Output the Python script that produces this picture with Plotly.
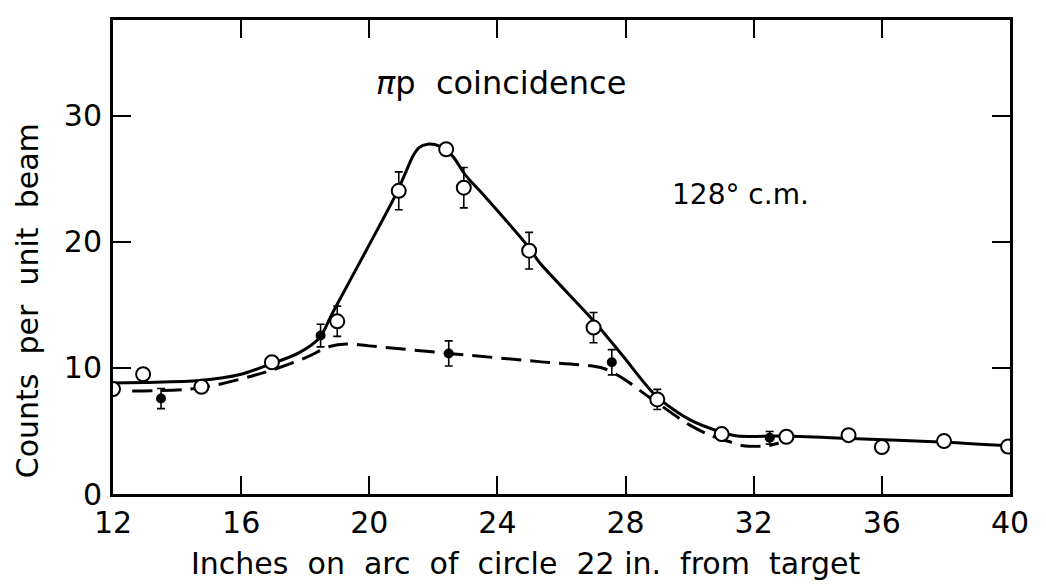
import plotly.graph_objects as go

# Open circles (pi-p coincidence)
open_x = [12.0, 12.94, 14.76, 16.96, 19.0, 20.92, 22.4, 22.95, 24.99, 27.0, 28.99, 31.0, 33.02, 34.96, 36.0, 37.94, 39.94]
open_y = [8.32, 9.5, 8.5, 10.45, 13.7, 24.05, 27.35, 24.3, 19.3, 13.2, 7.5, 4.75, 4.54, 4.67, 3.72, 4.2, 3.76]
open_err = [0, 0, 0, 0, 1.2, 1.5, 0, 1.6, 1.45, 1.2, 0.8, 0, 0, 0, 0, 0, 0]

# Filled dots
fill_x = [13.5, 18.48, 22.48, 27.57, 32.5]
fill_y = [7.57, 12.57, 11.15, 10.45, 4.46]
fill_err = [0.8, 0.9, 1.0, 1.0, 0.5]

# Solid curve
solid_x = [12.0, 13.0, 14.7, 16.0, 16.8, 17.8, 18.45, 18.86, 19.9, 20.84, 21.15, 21.36, 21.56, 21.82, 22.19,
           22.6, 23.0, 23.54, 25.0, 25.3, 27.0, 27.9, 28.94, 30.0, 31.0, 31.5, 32.9, 35.0, 38.0, 40.0]
solid_y = [8.8, 8.85, 9.0, 9.5, 10.2, 11.2, 12.4, 14.4, 19.3, 23.8, 25.6, 26.8, 27.5, 27.75, 27.6,
           26.8, 25.3, 23.8, 19.5, 18.4, 13.75, 11.0, 7.8, 5.9, 4.9, 4.6, 4.6, 4.4, 4.1, 3.8]

# Dashed curve
dash_x = [12.6, 14.7, 16.8, 18.0, 18.76, 19.3, 20.0, 22.48, 25.3, 27.27, 27.9, 28.73, 29.98, 30.7, 31.3, 31.63, 32.36, 32.78]
dash_y = [8.17, 8.4, 9.7, 10.8, 11.7, 11.9, 11.75, 11.15, 10.5, 10.0, 9.2, 7.7, 5.5, 4.6, 4.1, 3.85, 3.8, 4.05]

x_ticks = [12, 16, 20, 24, 28, 32, 36, 40]
y_ticks = [0, 10, 20, 30]

FONT = "DejaVu Sans"

fig = go.Figure()
fig.add_trace(go.Scatter(x=solid_x, y=solid_y, mode="lines",
                         line=dict(color="black", width=3, shape="spline", smoothing=0.8),
                         hoverinfo="skip"))
fig.add_trace(go.Scatter(x=dash_x, y=dash_y, mode="lines",
                         line=dict(color="black", width=3, shape="spline", smoothing=0.8, dash="20px,9px"),
                         hoverinfo="skip"))

fig.add_trace(go.Scatter(x=fill_x, y=fill_y, mode="markers",
                         marker=dict(symbol="circle", size=10, color="black"),
                         error_y=dict(type="data", array=fill_err, visible=True, color="black",
                                      thickness=1.6, width=4)))

eb_x = [x for x, e in zip(open_x, open_err) if e > 0]
eb_y = [y for y, e in zip(open_y, open_err) if e > 0]
eb_e = [e for e in open_err if e > 0]
fig.add_trace(go.Scatter(x=eb_x, y=eb_y, mode="markers",
                         marker=dict(size=1, color="rgba(0,0,0,0)"),
                         error_y=dict(type="data", array=eb_e, visible=True, color="black",
                                      thickness=1.6, width=4)))
fig.add_trace(go.Scatter(x=open_x, y=open_y, mode="markers",
                         marker=dict(symbol="circle", size=14, color="white",
                                     line=dict(color="black", width=2))))

axis_common = dict(showgrid=False, zeroline=False, showline=True, linecolor="black", linewidth=3,
                   mirror="ticks", ticks="inside", ticklen=18, tickwidth=2, tickcolor="black",
                   tickfont=dict(family=FONT, size=30, color="black"))

fig.update_xaxes(range=[12, 40], tickvals=x_ticks, ticktext=[str(v) for v in x_ticks],
                 ticklabelstandoff=0, **axis_common)
fig.update_yaxes(range=[0, 37.6], tickvals=y_ticks, ticktext=[str(v) for v in y_ticks],
                 ticklabelstandoff=2, **axis_common)

ann_common = dict(xref="paper", yref="paper", showarrow=False, xanchor="center", yanchor="middle")
fig.add_annotation(text="<i>π</i>p\u00a0\u00a0coincidence", x=0.433, y=0.868,
                   font=dict(family=FONT, size=32, color="black"), **ann_common)
fig.add_annotation(text="128° c.m.", x=0.70, y=0.631,
                   font=dict(family=FONT, size=28, color="black"), **ann_common)
fig.add_annotation(text="Inches\u00a0 on\u00a0 arc\u00a0 of\u00a0 circle\u00a0 22 in.\u00a0 from\u00a0 target",
                   x=0.46, y=-0.147,
                   font=dict(family=FONT, size=30, color="black"), **ann_common)
fig.add_annotation(text="Counts\u00a0 per\u00a0 unit\u00a0 beam", x=-0.0957, y=0.407, textangle=-90,
                   font=dict(family=FONT, size=30, color="black"), **ann_common)

# The page has an 8px body margin; size the figure so the plot area lands where the reference has it.
fig.update_layout(width=1030, height=572, showlegend=False,
                  paper_bgcolor="white", plot_bgcolor="white",
                  margin=dict(l=105, r=26, t=9, b=86))

fig.write_html("out.html")
